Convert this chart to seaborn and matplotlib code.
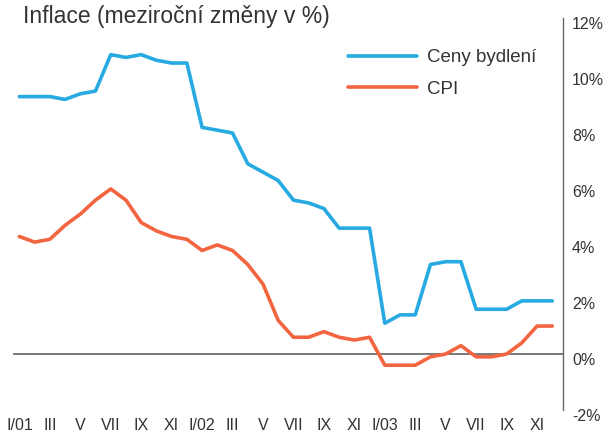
import numpy as np
import pandas as pd
import matplotlib
matplotlib.use("Agg")
import matplotlib.pyplot as plt
import matplotlib.transforms as mtrans
import seaborn as sns

# %% Data
months = ["I/01", "II", "III", "IV", "V", "VI", "VII", "VIII", "IX", "X", "XI", "XII",
          "I/02", "II", "III", "IV", "V", "VI", "VII", "VIII", "IX", "X", "XI", "XII",
          "I/03", "II", "III", "IV", "V", "VI", "VII", "VIII", "IX", "X", "XI", "XII"]

housing = [9.2, 9.2, 9.2, 9.1, 9.3, 9.4, 10.7, 10.6, 10.7, 10.5, 10.4, 10.4,
           8.1, 8.0, 7.9, 6.8, 6.5, 6.2, 5.5, 5.4, 5.2, 4.5, 4.5, 4.5,
           1.1, 1.4, 1.4, 3.2, 3.3, 3.3, 1.6, 1.6, 1.6, 1.9, 1.9, 1.9]

cpi = [4.2, 4.0, 4.1, 4.6, 5.0, 5.5, 5.9, 5.5, 4.7, 4.4, 4.2, 4.1,
       3.7, 3.9, 3.7, 3.2, 2.5, 1.2, 0.6, 0.6, 0.8, 0.6, 0.5, 0.6,
       -0.4, -0.4, -0.4, -0.1, 0.0, 0.3, -0.1, -0.1, 0.0, 0.4, 1.0, 1.0]

y_ticks = [-2, 0, 2, 4, 6, 8, 10, 12]

df = pd.DataFrame({"t": np.arange(len(months)), "month": months,
                   "Ceny bydlení": housing, "CPI": cpi})

# %% Plot
sns.set_style("white")
plt.rcParams["font.family"] = ["Liberation Sans", "DejaVu Sans"]
text_col = "#333333"

fig = plt.figure(figsize=(6.04, 4.37), dpi=100)
ax = fig.add_axes([0.021, 0.0618, 0.911, 0.8964])

sns.lineplot(data=df, x="t", y="Ceny bydlení", color="#27AAE1", lw=2.6,
             label="Ceny bydlení", ax=ax)
sns.lineplot(data=df, x="t", y="CPI", color="#F26540", lw=2.6,
             label="CPI", ax=ax)

# zero line
ax.axhline(0, color="#555555", lw=1.1, zorder=0)

ax.set_xlim(-0.44, 35.7)
ax.set_ylim(-2, 12)

# x ticks every second month
ax.set_xticks(df["t"][::2])
ax.set_xticklabels(df["month"][::2], fontsize=11.5, color=text_col)
ax.tick_params(axis="x", length=0, pad=6)

# y axis on the right
ax.yaxis.tick_right()
ax.set_yticks(y_ticks)
ax.set_yticklabels([f"{v}%" for v in y_ticks], fontsize=11.5, color=text_col)
ax.tick_params(axis="y", length=0, pad=6.5)
shift = mtrans.ScaledTranslation(0, -3.5 / 72, fig.dpi_scale_trans)
for lab in ax.get_yticklabels():
    lab.set_transform(lab.get_transform() + shift)

for side in ["top", "left", "bottom"]:
    ax.spines[side].set_visible(False)
ax.spines["right"].set_color("#666666")
ax.spines["right"].set_linewidth(1)

ax.set_xlabel("")
ax.set_ylabel("")

leg = ax.legend(loc="upper left", bbox_to_anchor=(348 / 604, 1 - 49 / 437),
                bbox_transform=fig.transFigure, frameon=False, fontsize=13.5,
                handlelength=3.7, handletextpad=0.5, labelspacing=0.78,
                borderpad=0, borderaxespad=0)
for t in leg.get_texts():
    t.set_color(text_col)

fig.text(23 / 604, 1 - 17 / 437, "Inflace (meziroční změny v %)", fontsize=16.5,
         color=text_col, va="center", ha="left")

fig.savefig("out.png", dpi=100)
